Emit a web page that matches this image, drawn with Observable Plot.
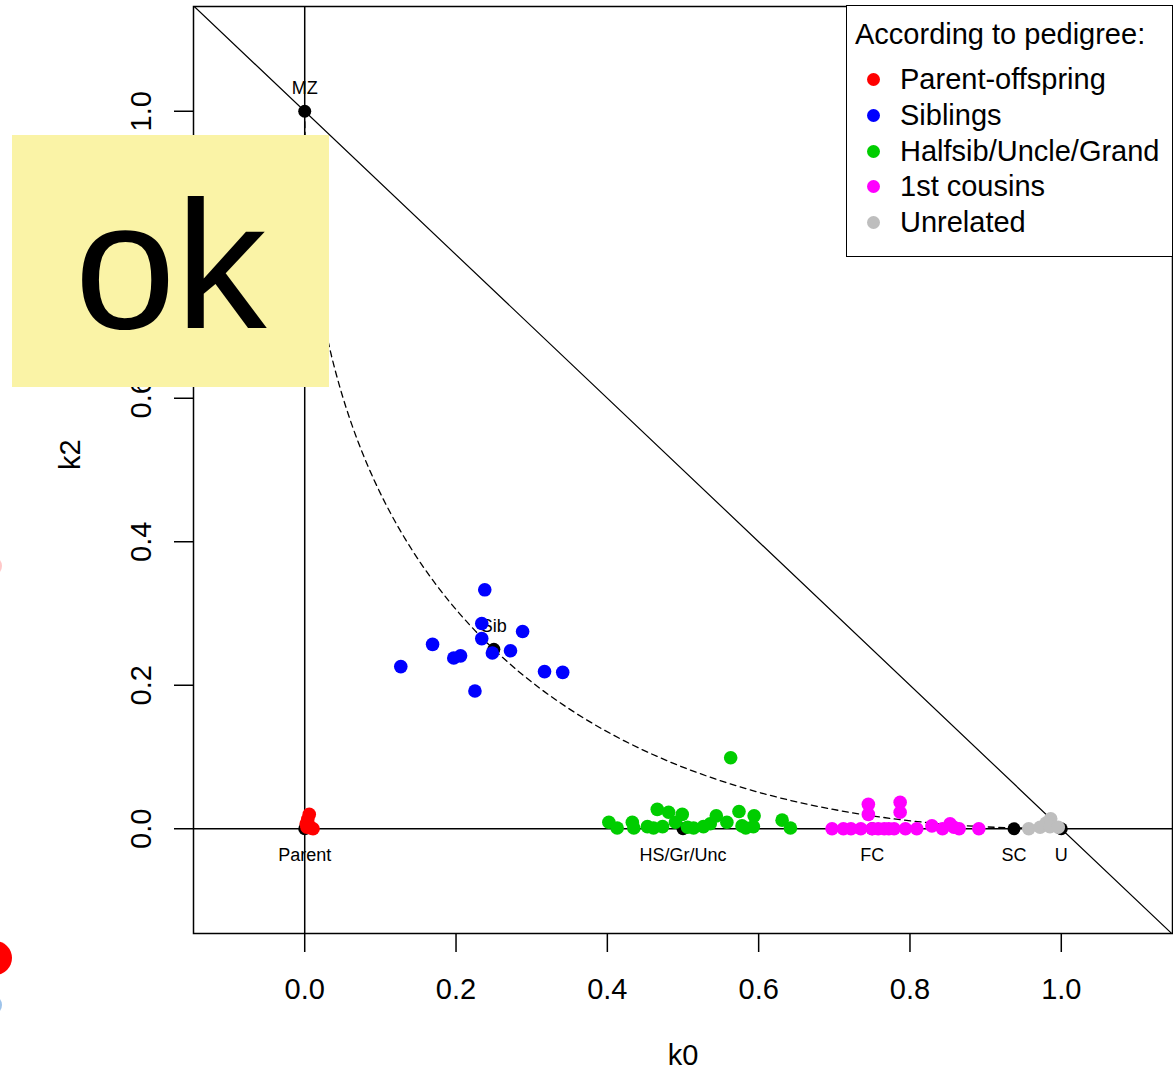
<!DOCTYPE html>
<html><head><meta charset="utf-8">
<script src="https://cdn.jsdelivr.net/npm/d3@7"></script>
<script src="https://cdn.jsdelivr.net/npm/@observablehq/plot@0.6"></script>
<style>
html,body{margin:0;padding:0;background:#fff;overflow:hidden;}
#wrap{position:relative;width:1173px;height:1073px;overflow:hidden;font-family:"Liberation Sans",Arial,sans-serif;color:#000;}
#chart svg{display:block;}
.legend{position:absolute;left:846px;top:5px;width:327px;height:252px;border:1.5px solid #000;background:#fff;box-sizing:border-box;}
.legend .title{position:absolute;left:8px;top:10px;font-size:29px;line-height:36px;white-space:nowrap;}
.legend .row{position:absolute;left:0;height:36px;line-height:36px;font-size:29px;white-space:nowrap;}
.legend .dot{position:absolute;left:20px;top:12px;width:13px;height:13px;border-radius:50%;}
.legend .lab{position:absolute;left:53px;top:0;}
.note{position:absolute;left:12px;top:135px;width:317px;height:252px;background:#FAF3A6;}
.note span{position:absolute;left:0;top:39px;width:100%;text-align:center;font-size:182px;line-height:182px;}
.frag{position:absolute;border-radius:50%;}
</style>
</head><body>
<div id="wrap"><div id="chart"></div></div>
<script>
// ---- data ----
const xTicks = [0, 0.2, 0.4, 0.6, 0.8, 1.0];
const yTicks = [0, 0.2, 0.4, 0.6, 0.8, 1.0];
const xDomain = [-0.147, 1.147];
const yDomain = [-0.146, 1.146];

const refNames = ["MZ", "Parent", "Sib", "HS/Gr/Unc", "FC", "SC", "U"];
const refK0 = [0, 0, 0.25, 0.5, 0.75, 0.9375, 1];
const refK2 = [1, 0, 0.25, 0, 0, 0, 0];
const labelsAbove = ["MZ", "Sib"];

// dashed theoretical curve (k0, k2)
const curveK0 = [0, 0.000625, 0.0025, 0.005625, 0.01, 0.0225, 0.04, 0.0625, 0.09, 0.1225, 0.16, 0.2025, 0.25, 0.3025, 0.36, 0.4225, 0.49, 0.5625, 0.64, 0.7225, 0.81, 0.9025, 1];
const curveK2 = [1, 0.950625, 0.9025, 0.855625, 0.81, 0.7225, 0.64, 0.5625, 0.49, 0.4225, 0.36, 0.3025, 0.25, 0.2025, 0.16, 0.1225, 0.09, 0.0625, 0.04, 0.0225, 0.01, 0.0025, 0];

const parentOffspring = [[0.006,0.02],[0.004,0.013],[0.002,0.007],[0.003,0.002],[0.008,0.001],[0.011,0.0],[0.006,0.004]];
const siblings = [[0.127,0.226],[0.169,0.257],[0.197,0.238],[0.206,0.241],[0.225,0.192],[0.238,0.333],[0.234,0.286],[0.234,0.265],[0.248,0.245],[0.272,0.248],[0.288,0.275],[0.317,0.219],[0.341,0.218]];
const halfsib = [[0.563,0.099],[0.402,0.009],[0.413,0.001],[0.433,0.009],[0.435,0.001],[0.453,0.003],[0.466,0.027],[0.481,0.023],[0.461,0.001],[0.473,0.003],[0.49,0.009],[0.499,0.02],[0.506,0.002],[0.514,0.001],[0.527,0.003],[0.536,0.007],[0.544,0.018],[0.558,0.009],[0.574,0.024],[0.578,0.004],[0.594,0.018],[0.593,0.003],[0.583,0.001],[0.631,0.012],[0.642,0.001]];
const cousins = [[0.697,0],[0.712,0],[0.722,0],[0.735,0],[0.745,0.034],[0.745,0.02],[0.75,0],[0.758,0],[0.766,0],[0.772,0],[0.779,0],[0.787,0.037],[0.787,0.023],[0.794,0],[0.809,0],[0.829,0.004],[0.843,0],[0.853,0.007],[0.858,0.002],[0.865,0],[0.891,0]];
const unrelated = [[0.957,0],[0.972,0.002],[0.98,0.008],[0.986,0.014],[0.985,0.003],[0.996,0.002]];

const groupNames = ["Parent-offspring", "Siblings", "Halfsib/Uncle/Grand", "1st cousins", "Unrelated"];
const groupColors = ["#FF0000", "#0000FF", "#00CD00", "#FF00FF", "#BEBEBE"];
const groups = [parentOffspring, siblings, halfsib, cousins, unrelated];
const legendTitle = "According to pedigree:";

// ---- build ----
const refs = refNames.map((n, i) => ({name: n, k0: refK0[i], k2: refK2[i]}));
const curve = curveK0.map((v, i) => ({k0: v, k2: curveK2[i]}));
const diagonal = [{k0: xDomain[0], k2: 1 - xDomain[0]}, {k0: xDomain[1], k2: 1 - xDomain[1]}];
const fmt = d3.format(".1f");

const plot = Plot.plot({
  width: 1173,
  height: 1073,
  marginLeft: 193,
  marginRight: 1,
  marginTop: 6,
  marginBottom: 140,
  x: {domain: xDomain, axis: null},
  y: {domain: yDomain, axis: null},
  style: {fontFamily: "'Liberation Sans', Arial, sans-serif", background: "white", color: "black", overflow: "visible"},
  marks: [
    Plot.ruleX([0], {stroke: "black", strokeWidth: 1.5}),
    Plot.ruleY([0], {stroke: "black", strokeWidth: 1.5}),
    Plot.line(diagonal, {x: "k0", y: "k2", stroke: "black", strokeWidth: 1.2, clip: true}),
    Plot.line(curve, {x: "k0", y: "k2", stroke: "black", strokeWidth: 1.3, strokeDasharray: "6,4.5", curve: "catmull-rom"}),
    Plot.frame({stroke: "black", strokeWidth: 1.5}),
    Plot.axisX({ticks: xTicks, tickSize: 19, tickPadding: 26, fontSize: 29, tickFormat: fmt, label: null, strokeWidth: 1.5}),
    Plot.axisY({ticks: yTicks, tickSize: 19, tickFormat: () => "", label: null, strokeWidth: 1.5}),
    Plot.text(yTicks, {y: d => d, text: d => fmt(d), frameAnchor: "left", dx: -43, rotate: -90, lineAnchor: "bottom", textAnchor: "middle", fontSize: 29, fill: "black"}),
    Plot.text(["k0"], {frameAnchor: "bottom", dy: 131, lineAnchor: "bottom", fontSize: 29, fill: "black"}),
    Plot.text(["k2"], {frameAnchor: "left", dx: -114, rotate: -90, lineAnchor: "bottom", fontSize: 29, fill: "black"}),
    Plot.dot(refs, {x: "k0", y: "k2", r: 6.5, fill: "black", stroke: "none"}),
    Plot.text(refs.filter(d => labelsAbove.includes(d.name)), {x: "k0", y: "k2", text: "name", dy: -23, fontSize: 18, fill: "black"}),
    Plot.text(refs.filter(d => !labelsAbove.includes(d.name)), {x: "k0", y: "k2", text: "name", dy: 26, fontSize: 18, fill: "black"}),
    ...groups.map((g, i) => Plot.dot(g, {x: d => d[0], y: d => d[1], r: 6.8, fill: groupColors[i], stroke: "none"}))
  ]
});
const wrap = document.getElementById("wrap");
document.getElementById("chart").appendChild(plot);

// legend
const leg = document.createElement("div");
leg.className = "legend";
let html = `<div class="title">${legendTitle}</div>`;
groupNames.forEach((n, i) => {
  const top = 73 + i * 35.8 - 18;
  html += `<div class="row" style="top:${top}px"><div class="dot" style="background:${groupColors[i]}"></div><div class="lab">${n}</div></div>`;
});
leg.innerHTML = html;
wrap.appendChild(leg);

// overlay note
const note = document.createElement("div");
note.className = "note";
note.innerHTML = "<span>ok</span>";
wrap.appendChild(note);

// cropped fragments at the left edge
[["#FF0000", -22, 941, 34], ["#9EC3EA", -18, 995, 20], ["#FFC8C8", -18, 556, 20]].forEach(([c, l, t, s]) => {
  const f = document.createElement("div");
  f.className = "frag";
  f.style.cssText = `left:${l}px;top:${t}px;width:${s}px;height:${s}px;background:${c}`;
  wrap.appendChild(f);
});
</script>
</body></html>
